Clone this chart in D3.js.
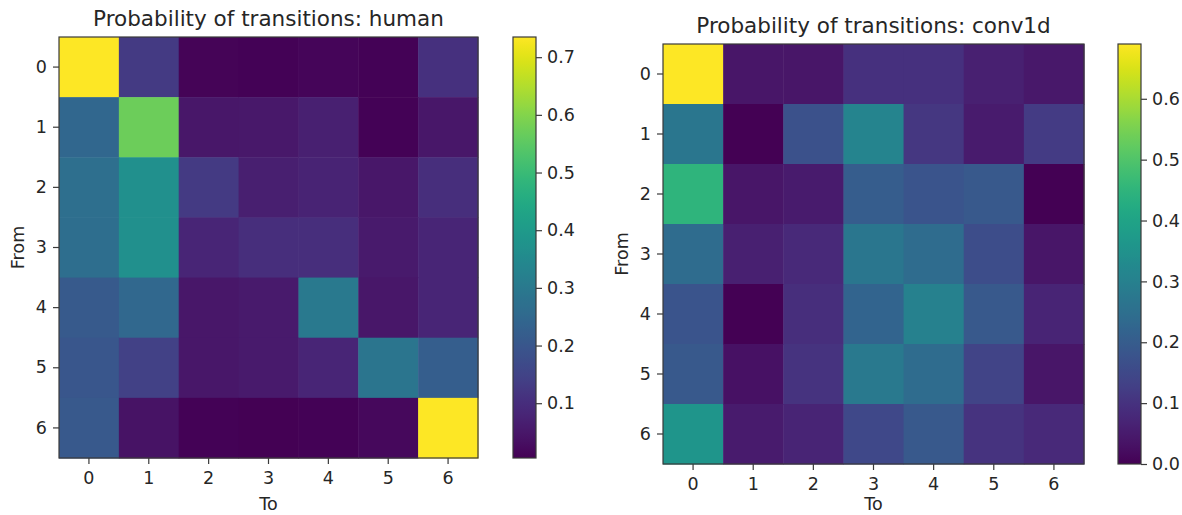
<!DOCTYPE html>
<html>
<head>
<meta charset="utf-8">
<script src="https://cdn.jsdelivr.net/npm/d3@7"></script>
<style>
  html, body { margin: 0; padding: 0; background: #fff; }
  svg { display: block; }
  text { font-family: "DejaVu Sans", sans-serif; fill: #262626; }
</style>
</head>
<body>
<svg id="chart" width="1182" height="515"></svg>
<script>
// ---- data ----
const states = [0, 1, 2, 3, 4, 5, 6];
const titleHuman = "Probability of transitions: human";
const titleConv = "Probability of transitions: conv1d";
const humanMatrix = [
  [0.735, 0.13, 0.012, 0.010, 0.015, 0.010, 0.105],
  [0.245, 0.57, 0.050, 0.052, 0.070, 0.010, 0.050],
  [0.270, 0.37, 0.130, 0.065, 0.075, 0.050, 0.100],
  [0.265, 0.37, 0.080, 0.100, 0.100, 0.055, 0.080],
  [0.210, 0.25, 0.050, 0.055, 0.300, 0.050, 0.080],
  [0.200, 0.145, 0.050, 0.055, 0.080, 0.290, 0.220],
  [0.205, 0.040, 0.010, 0.005, 0.010, 0.020, 0.735]
];
const convMatrix = [
  [0.69, 0.040, 0.040, 0.095, 0.095, 0.060, 0.045],
  [0.27, 0.000, 0.170, 0.310, 0.110, 0.050, 0.120],
  [0.45, 0.040, 0.050, 0.200, 0.180, 0.190, 0.000],
  [0.24, 0.060, 0.080, 0.270, 0.240, 0.160, 0.040],
  [0.18, 0.000, 0.090, 0.220, 0.300, 0.190, 0.070],
  [0.19, 0.030, 0.100, 0.280, 0.240, 0.140, 0.040],
  [0.36, 0.050, 0.070, 0.150, 0.190, 0.100, 0.080]
];
const humanTicks = [0.1, 0.2, 0.3, 0.4, 0.5, 0.6, 0.7];
const convTicks = [0.0, 0.1, 0.2, 0.3, 0.4, 0.5, 0.6];
const xLabel = "To";
const yLabel = "From";

// ---- layout ----
const svg = d3.select("#chart");
const frameColor = "#3a3a3a";
const tickFont = 17.5;
const titleFont = 21.5;

function drawPanel(cfg) {
  const g = svg.append("g");
  const x = d3.scaleBand().domain(states).range([cfg.x0, cfg.x0 + cfg.w]).padding(0);
  const y = d3.scaleBand().domain(states).range([cfg.y0, cfg.y0 + cfg.h]).padding(0);
  const ext = d3.extent(cfg.matrix.flat());
  const color = d3.scaleSequential(d3.interpolateViridis).domain(ext);

  const cells = [];
  cfg.matrix.forEach((row, i) => row.forEach((v, j) => cells.push({ from: states[i], to: states[j], v })));
  g.selectAll("rect.cell").data(cells).join("rect")
    .attr("class", "cell")
    .attr("x", d => x(d.to))
    .attr("y", d => y(d.from))
    .attr("width", x.bandwidth() + 0.5)
    .attr("height", y.bandwidth() + 0.5)
    .attr("fill", d => color(d.v));

  g.append("rect")
    .attr("x", cfg.x0).attr("y", cfg.y0).attr("width", cfg.w).attr("height", cfg.h)
    .attr("fill", "none").attr("stroke", frameColor).attr("stroke-width", 1.2);

  // axes
  const xAxis = g.append("g").attr("transform", `translate(0,${cfg.y0 + cfg.h})`)
    .call(d3.axisBottom(x).tickSize(6).tickPadding(8));
  const yAxis = g.append("g").attr("transform", `translate(${cfg.x0},0)`)
    .call(d3.axisLeft(y).tickSize(6).tickPadding(6));
  [xAxis, yAxis].forEach(a => {
    a.select(".domain").remove();
    a.selectAll(".tick line").attr("stroke", frameColor).attr("stroke-width", 1.2);
    a.selectAll(".tick text").attr("font-size", tickFont).attr("fill", "#262626")
      .style("font-family", "DejaVu Sans");
  });

  // title
  g.append("text")
    .attr("x", cfg.x0 + cfg.w / 2).attr("y", cfg.titleY)
    .attr("text-anchor", "middle").attr("font-size", titleFont)
    .text(cfg.title);

  // axis labels
  g.append("text")
    .attr("x", cfg.x0 + cfg.w / 2).attr("y", cfg.xLabelY)
    .attr("text-anchor", "middle").attr("font-size", tickFont)
    .text(xLabel);
  g.append("text")
    .attr("transform", `translate(${cfg.yLabelX},${cfg.y0 + cfg.h / 2}) rotate(-90)`)
    .attr("text-anchor", "middle").attr("font-size", tickFont)
    .text(yLabel);

  // colorbar
  const gradId = "grad" + cfg.id;
  const grad = svg.append("defs").append("linearGradient")
    .attr("id", gradId).attr("x1", "0%").attr("y1", "100%").attr("x2", "0%").attr("y2", "0%");
  d3.range(0, 1.0001, 0.02).forEach(t => {
    grad.append("stop").attr("offset", (t * 100) + "%").attr("stop-color", d3.interpolateViridis(t));
  });
  g.append("rect")
    .attr("x", cfg.cbX).attr("y", cfg.y0).attr("width", cfg.cbW).attr("height", cfg.h)
    .attr("fill", `url(#${gradId})`).attr("stroke", frameColor).attr("stroke-width", 1.2);
  const cbScale = d3.scaleLinear().domain(ext).range([cfg.y0 + cfg.h, cfg.y0]);
  const cbAxis = g.append("g").attr("transform", `translate(${cfg.cbX + cfg.cbW},0)`)
    .call(d3.axisRight(cbScale).tickValues(cfg.ticks).tickFormat(d3.format(".1f")).tickSize(6).tickPadding(5));
  cbAxis.select(".domain").remove();
  cbAxis.selectAll(".tick line").attr("stroke", frameColor).attr("stroke-width", 1.2);
  cbAxis.selectAll(".tick text").attr("font-size", tickFont).attr("fill", "#262626")
    .style("font-family", "DejaVu Sans");
}

drawPanel({
  id: "h", matrix: humanMatrix, title: titleHuman, ticks: humanTicks,
  x0: 59, y0: 37, w: 419, h: 421, cbX: 513, cbW: 23,
  titleY: 26, xLabelY: 510, yLabelX: 24
});
drawPanel({
  id: "c", matrix: convMatrix, title: titleConv, ticks: convTicks,
  x0: 663, y0: 44, w: 421, h: 420, cbX: 1118, cbW: 23,
  titleY: 33, xLabelY: 510, yLabelX: 628
});
</script>
</body>
</html>
